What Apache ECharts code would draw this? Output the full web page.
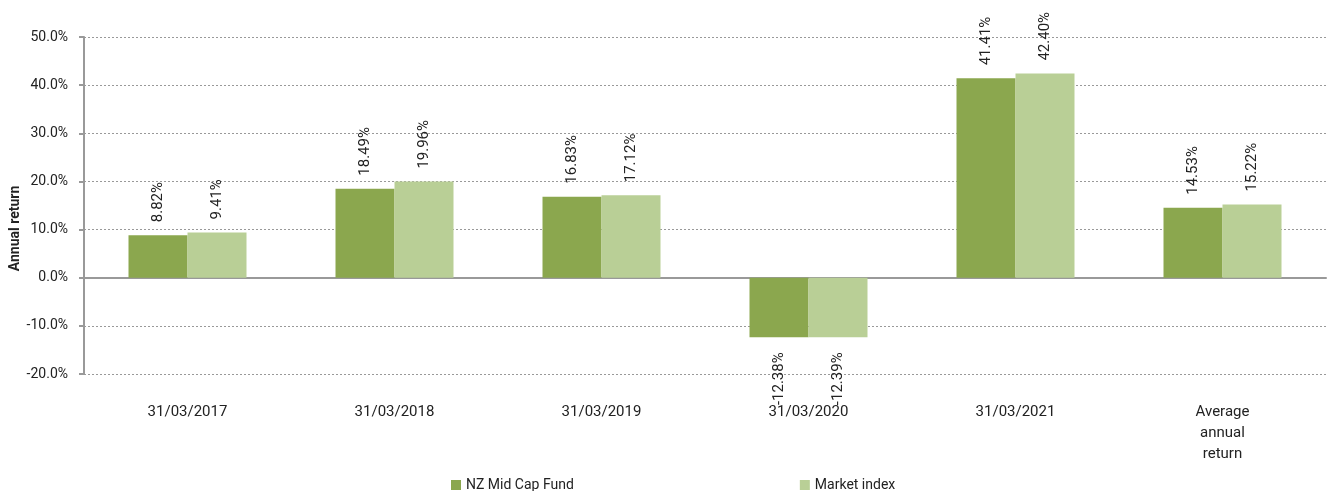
<!DOCTYPE html>
<html>
<head>
<meta charset="utf-8">
<script src="https://cdn.jsdelivr.net/npm/echarts@6/dist/echarts.min.js"></script>
<style>
  html, body {margin: 0; padding: 0; background: #fff;}
  #chart {width: 1328px; height: 491px;}
</style>
</head>
<body>
<div id="chart"></div>
<script>
const categories = ["31/03/2017", "31/03/2018", "31/03/2019", "31/03/2020", "31/03/2021", "Average\nannual\nreturn"];
const fundValues = [8.82, 18.49, 16.83, -12.38, 41.41, 14.53];
const indexValues = [9.41, 19.96, 17.12, -12.39, 42.40, 15.22];
const seriesNames = ["NZ Mid Cap Fund", "Market index"];

const FONT = "Roboto";
const TEXT = "#222";

// positive labels go up from the bar end, negative ones hang down
const toData = (values) => values.map(v => v < 0
    ? {value: v, label: {position: "bottom", align: "right", distance: 15}}
    : {value: v});

const makeSeries = (name, values, color) => ({
    name,
    type: "bar",
    xAxisIndex: 0,
    data: toData(values),
    barWidth: 59,
    barGap: "0%",
    itemStyle: {color},
    label: {
        show: true,
        position: "top",
        rotate: 90,
        align: "left",
        verticalAlign: "middle",
        distance: 13,
        fontFamily: FONT,
        fontSize: 15,
        color: TEXT,
        formatter: p => p.value.toFixed(2) + "%"
    }
});

const myChart = echarts.init(document.getElementById("chart"));
myChart.setOption({
    animation: false,
    grid: {left: 84, right: 2, top: 37, bottom: 117, containLabel: false, outerBoundsMode: "none"},
    legend: {
        left: 446,
        top: 473,
        itemWidth: 10,
        itemHeight: 10,
        itemGap: 226,
        icon: "rect",
        textStyle: {fontFamily: FONT, fontSize: 14, color: TEXT},
        data: seriesNames
    },
    xAxis: [
        {
            // line at zero with boundary ticks
            type: "category",
            data: categories,
            axisLine: {onZero: true, lineStyle: {color: "#999", width: 2}},
            axisTick: {length: 5, lineStyle: {color: "#999", width: 2}},
            axisLabel: {show: false}
        },
        {
            // category labels at the bottom of the plot
            type: "category",
            data: categories,
            position: "bottom",
            axisLine: {show: false, onZero: false},
            axisTick: {show: false},
            axisLabel: {
                margin: 28,
                fontFamily: FONT,
                fontSize: 15,
                color: TEXT,
                lineHeight: 21,
                interval: 0
            }
        }
    ],
    yAxis: {
        type: "value",
        min: -20,
        max: 50,
        interval: 10,
        name: "Annual return",
        nameLocation: "middle",
        nameGap: 62,
        nameMoveOverlap: false,
        nameTextStyle: {
            fontFamily: FONT, fontSize: 14, fontWeight: "bold", color: TEXT,
            padding: [0, 46, 0, 0]
        },
        axisLine: {show: true, lineStyle: {color: "#999", width: 2}},
        axisTick: {show: true, length: 5, lineStyle: {color: "#999", width: 2}},
        axisLabel: {
            margin: 16,
            fontFamily: FONT,
            fontSize: 14,
            color: TEXT,
            formatter: v => v.toFixed(1) + "%"
        },
        splitLine: {lineStyle: {color: "#999", type: [2, 2], width: 1}}
    },
    series: [
        makeSeries(seriesNames[0], fundValues, "#8BA74E"),
        makeSeries(seriesNames[1], indexValues, "#B9CF96")
    ]
});
</script>
</body>
</html>
